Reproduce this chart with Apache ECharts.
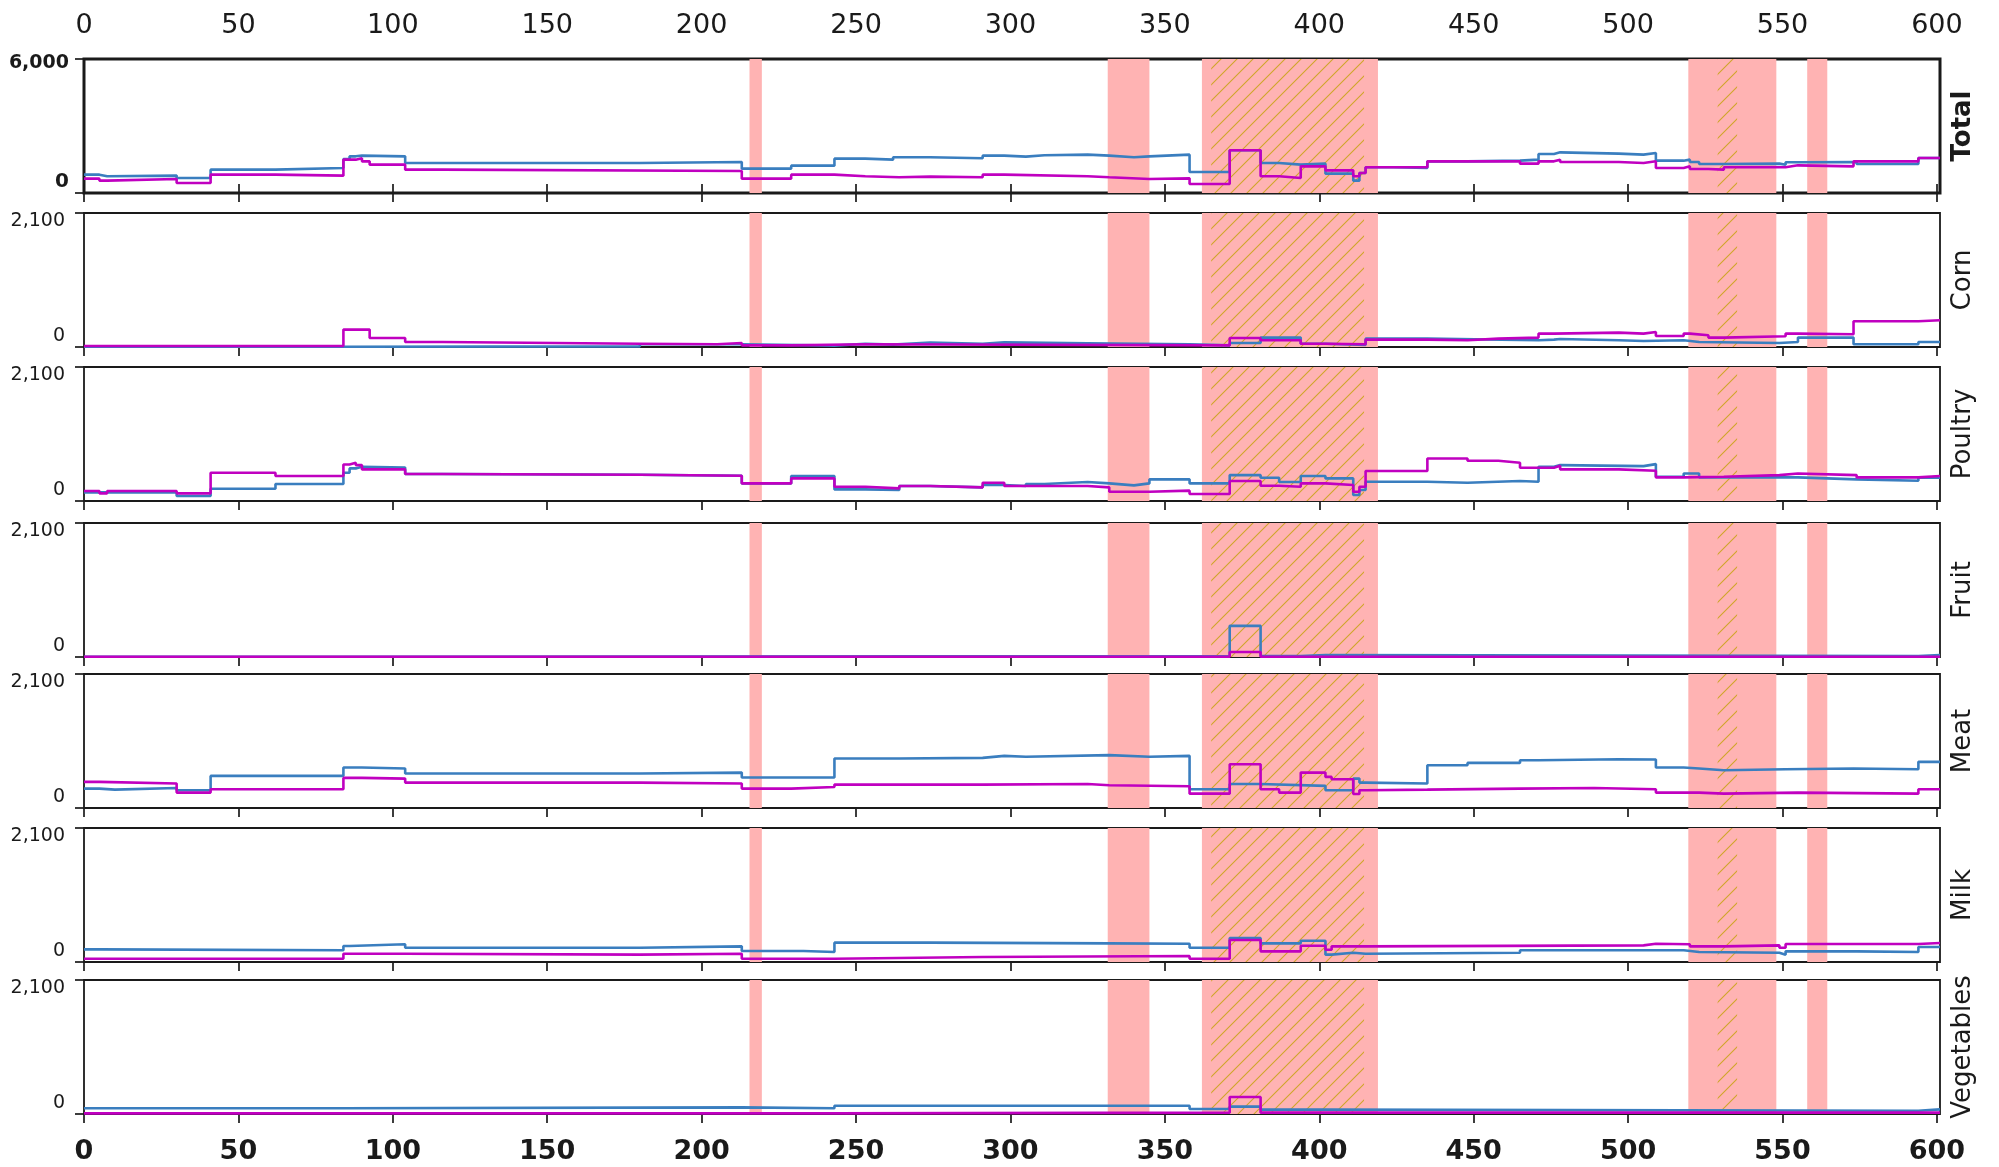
<!DOCTYPE html>
<html><head><meta charset="utf-8">
<script src="https://cdn.jsdelivr.net/npm/echarts@6/dist/echarts.min.js"></script>
<style>html,body{margin:0;padding:0;background:#fff}#c{width:1999px;height:1167px}</style>
</head><body><div id="c"></div>
<script>
const panels = ['Total','Corn','Poultry','Fruit','Meat','Milk','Vegetables'];
const yMax = [6000,2100,2100,2100,2100,2100,2100];
const xTicks = [0,50,100,150,200,250,300,350,400,450,500,550,600];
const shaded = [[215.5,219.5],[331.5,345],[362,419],[519.5,548],[558,564.5]];
const hatched = [[365,414.5],[529,535.3]];

const totalBlue = [[0,821],[5,750],[7.5,780],[30,672],[41,1045],[62,1120],[84,1523],[86,1642],[88,1672],[90,1642],[104,1344],[180,1389],[213,1090],[229,1224],[243,1538],[253,1493],[262,1598],[274,1553],[291,1672],[298,1627],[305,1687],[311,1717],[325,1672],[332,1598],[340,1642],[345,1717],[358,941],[371,1911],[381,1344],[387,1269],[394,1314],[402,866],[411,552],[413,896],[415,1150],[424,1120],[435,1418],[448,1448],[465,1493],[471,1747],[476,1821],[478,1762],[497,1717],[505,1792],[509,1448],[518,1493],[520,1389],[523,1299],[531,1314],[549,1269],[551,1374],[555,1389],[574,1299],[594,1568]];
const totalMag = [[0,642],[5,552],[7.5,627],[30,448],[41,821],[62,776],[84,1493],[88,1553],[90,1418],[92.5,1269],[104,1045],[116,985],[213,642],[229,821],[243,747],[253,702],[264,732],[274,702],[291,821],[298,747],[325,702],[332,627],[345,657],[358,403],[371,1911],[381,747],[387,672],[394,1194],[402,1015],[411,747],[413,896],[415,1150],[435,1418],[465,1314],[471,1418],[476,1493],[478,1389],[497,1344],[505,1418],[509,1120],[518,1194],[520,1075],[526,1045],[531,1150],[551,1239],[555,1194],[573,1418],[594,1568]];
const cornBlue = [[0,5],[84,10],[180,42],[213,21],[243,52],[253,37],[262,68],[274,52],[291,73],[298,58],[325,42],[358,26],[371,63],[381,147],[394,52],[402,31],[415,131],[435,105],[471,115],[476,125],[478,105],[497,94],[505,105],[518,79],[523,63],[549,79],[555,147],[573,42],[594,79]];
const cornMag = [[0,15],[84,273],[92.5,142],[104,79],[116,52],[180,42],[205,63],[213,26],[229,42],[253,26],[371,142],[381,105],[394,52],[402,42],[415,115],[435,105],[448,131],[458,147],[471,210],[476,226],[497,210],[505,236],[509,173],[518,210],[520,184],[526,147],[531,168],[551,210],[555,200],[573,404],[594,420]];
const poultryBlue = [[0,135],[30,78],[41,193],[62,266],[84,443],[86,511],[88,537],[90,526],[104,422],[116,412],[180,396],[213,276],[229,391],[243,182],[253,172],[264,234],[274,214],[291,250],[298,234],[305,266],[311,297],[325,276],[332,245],[340,276],[345,339],[358,276],[371,406],[381,365],[387,297],[394,391],[402,354],[411,94],[413,172],[415,302],[435,287],[448,313],[465,302],[471,537],[476,563],[478,547],[505,578],[509,380],[518,432],[523,370],[555,339],[574,318],[594,365]];
const poultryMag = [[0,156],[5,120],[7.5,156],[30,120],[41,443],[62,391],[84,573],[86,599],[88,563],[90,495],[104,422],[116,412],[180,396],[213,276],[229,354],[243,224],[253,198],[264,234],[274,214],[291,287],[298,234],[325,214],[332,146],[345,162],[358,109],[371,313],[381,240],[387,224],[394,276],[402,250],[411,146],[413,224],[415,469],[435,667],[448,630],[458,599],[465,521],[476,552],[478,495],[497,474],[509,370],[518,380],[531,406],[549,432],[555,406],[574,370],[594,391]];
const fruitBlue = [[0,5],[84,16],[371,488],[381,16],[394,31],[402,16],[594,31]];
const fruitMag = [[0,5],[371,79],[381,5]];
const meatBlue = [[0,304],[5,288],[10,314],[30,278],[41,503],[84,634],[90,618],[104,540],[180,555],[213,477],[243,776],[264,786],[291,817],[298,802],[305,828],[332,802],[345,817],[358,293],[371,377],[381,346],[402,278],[411,461],[413,398],[415,383],[435,671],[448,707],[465,749],[471,765],[497,760],[509,634],[518,618],[523,592],[531,608],[551,618],[573,608],[594,723]];
const meatMag = [[0,409],[5,383],[30,241],[41,293],[84,472],[90,461],[104,398],[180,383],[213,304],[229,330],[243,367],[291,377],[325,356],[332,340],[358,225],[371,686],[381,293],[387,241],[394,555],[402,487],[404,451],[411,220],[413,278],[415,288],[435,304],[465,314],[489,293],[509,241],[523,225],[531,241],[555,225],[594,293]];
const milkBlue = [[0,198],[5,183],[84,250],[86,277],[104,224],[180,245],[213,172],[233,157],[243,303],[274,292],[332,287],[358,224],[371,376],[381,292],[394,334],[402,115],[404,146],[411,130],[415,146],[465,183],[518,157],[523,146],[549,115],[551,167],[574,157],[594,235]];
const milkMag = [[0,52],[84,130],[104,115],[180,130],[213,52],[243,78],[291,94],[358,52],[371,345],[381,167],[394,255],[402,193],[404,245],[415,261],[505,287],[509,277],[520,245],[531,261],[549,224],[551,282],[594,298]];
const vegBlue = [[0,89],[84,104],[213,89],[243,130],[358,78],[371,115],[381,68],[402,52],[594,73]];
const vegMag = [[0,10],[243,21],[371,266],[381,21]];

const blueSeries = [totalBlue, cornBlue, poultryBlue, fruitBlue, meatBlue, milkBlue, vegBlue];
const magSeries = [totalMag, cornMag, poultryMag, fruitMag, meatMag, milkMag, vegMag];

const X_END = 601;
const gridTops = [59, 213, 367, 523, 674, 828, 980];
const gridH = 134;
const BLUE = '#3a7ebf', MAG = '#c000c0', PINK = '#ffb3b3', TXT = '#1a1a1a';
const FONT = 'DejaVu Sans';

const pc = document.createElement('canvas');
pc.width = 16; pc.height = 16;
const g = pc.getContext('2d');
g.strokeStyle = '#cfa52a'; g.lineWidth = 1.1;
g.beginPath();
g.moveTo(0,16); g.lineTo(16,0);
g.moveTo(-4,4); g.lineTo(4,-4);
g.moveTo(12,20); g.lineTo(20,12);
g.stroke();
const hatchFill = { image: pc, repeat: 'repeat' };

const withEnd = a => a.concat([[X_END, a[a.length-1][1]]]);
const fmt = v => v.toLocaleString('en-US');

const grid = [], xAxis = [], yAxis = [], series = [];
panels.forEach((name, i) => {
  const isT = i === 0;
  grid.push({ left: 84, right: 59, top: gridTops[i], height: gridH, show: true,
    borderColor: '#1a1a1a', borderWidth: isT ? 3 : 1.8, backgroundColor: 'transparent' });
  xAxis.push({ type: 'value', gridIndex: i, min: 0, max: X_END, position: 'bottom',
    axisLine: { show: false }, splitLine: { show: false },
    axisTick: { show: true, customValues: xTicks, length: 9, lineStyle: { color: '#1a1a1a', width: 1.7 } },
    axisLabel: { show: i === 6, customValues: xTicks, fontFamily: FONT, fontSize: 27, fontWeight: 'bold', color: TXT, margin: 24 } });
  yAxis.push({ type: 'value', gridIndex: i, min: 0, max: yMax[i],
    axisLine: { show: false }, splitLine: { show: false },
    axisTick: { show: true, customValues: [0, yMax[i]], length: 9, lineStyle: { color: '#1a1a1a', width: 1.7 } },
    axisLabel: { show: true, customValues: [0, yMax[i]], margin: isT ? 15 : 19,
      formatter: v => (v === yMax[i] ? '{t|' + fmt(v) + '}' : '{b|' + fmt(v) + '}'),
      rich: {
        t: { fontFamily: FONT, fontSize: 19, fontWeight: isT ? 'bold' : 'normal', color: TXT, padding: [isT ? 8 : 16, 0, 0, 0] },
        b: { fontFamily: FONT, fontSize: isT ? 20 : 19, fontWeight: isT ? 'bold' : 'normal', color: TXT, padding: [0, 0, 22, 0] }
      } } });
  series.push({ type: 'line', xAxisIndex: i, yAxisIndex: i, data: [], z: 1, silent: true,
    markArea: { silent: true, itemStyle: { color: PINK, borderWidth: 0 },
      data: shaded.map(s => [{ xAxis: s[0] }, { xAxis: s[1] }])
        .concat(hatched.map(h => [{ xAxis: h[0], itemStyle: { color: hatchFill } }, { xAxis: h[1] }])) } });
  series.push({ type: 'line', xAxisIndex: i, yAxisIndex: i, step: 'end', symbol: 'none', z: 3,
    data: withEnd(blueSeries[i]), lineStyle: { color: BLUE, width: 2.6 }, silent: true });
  series.push({ type: 'line', xAxisIndex: i, yAxisIndex: i, step: 'end', symbol: 'none', z: 4,
    data: withEnd(magSeries[i]), lineStyle: { color: MAG, width: 2.6 }, silent: true });
});
// right-side panel names
panels.forEach((name, i) => {
  yAxis.push({ type: 'value', gridIndex: i, min: 0, max: yMax[i], position: 'right',
    axisLine: { show: false }, axisTick: { show: false }, axisLabel: { show: false }, splitLine: { show: false },
    name: name, nameLocation: 'middle', nameRotate: 90, nameGap: 10,
    nameTextStyle: { fontFamily: FONT, fontSize: 26, fontWeight: i === 0 ? 'bold' : 'normal', color: TXT } });
});
// top axis of the Total panel
xAxis.push({ type: 'value', gridIndex: 0, min: 0, max: X_END, position: 'top',
  axisLine: { show: false }, splitLine: { show: false },
  axisTick: { show: true, customValues: xTicks, length: 9, lineStyle: { color: '#1a1a1a', width: 1.7 } },
  axisLabel: { show: true, customValues: xTicks, fontFamily: FONT, fontSize: 27, color: TXT, margin: 20 } });

const chart = echarts.init(document.getElementById('c'), null, { renderer: 'canvas' });
chart.setOption({ animation: false, backgroundColor: '#fff', grid, xAxis, yAxis, series });
</script></body></html>
